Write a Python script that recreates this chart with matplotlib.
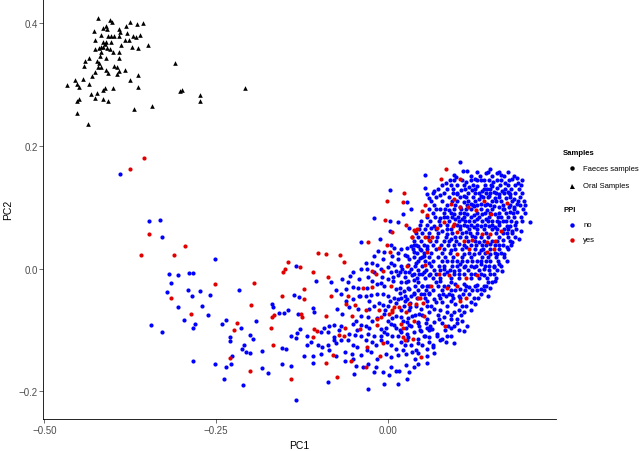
import matplotlib
matplotlib.use("Agg")
import matplotlib.pyplot as plt
from matplotlib.lines import Line2D

plt.rcParams['font.family'] = ['Liberation Sans', 'DejaVu Sans']

# ---------------- data (PC1, PC2) ----------------
oral_samples = [
    (-0.422, 0.408), (-0.404, 0.406), (-0.401, 0.402), (-0.428, 0.388), (-0.410, 0.395),
    (-0.415, 0.392), (-0.409, 0.390), (-0.391, 0.390), (-0.390, 0.386), (-0.381, 0.396),
    (-0.375, 0.402), (-0.365, 0.399), (-0.357, 0.401), (-0.380, 0.384), (-0.371, 0.379),
    (-0.367, 0.377), (-0.361, 0.381), (-0.417, 0.381), (-0.407, 0.379), (-0.403, 0.379),
    (-0.398, 0.380), (-0.391, 0.379), (-0.383, 0.373), (-0.377, 0.372), (-0.427, 0.372),
    (-0.415, 0.370), (-0.410, 0.369), (-0.412, 0.366), (-0.403, 0.370), (-0.418, 0.362),
    (-0.426, 0.358), (-0.420, 0.359), (-0.414, 0.362), (-0.409, 0.359), (-0.404, 0.358),
    (-0.388, 0.364), (-0.372, 0.361), (-0.363, 0.359), (-0.349, 0.364), (-0.418, 0.354),
    (-0.400, 0.354), (-0.392, 0.354), (-0.419, 0.346), (-0.411, 0.343), (-0.391, 0.344),
    (-0.435, 0.343), (-0.441, 0.339), (-0.423, 0.339), (-0.420, 0.336), (-0.442, 0.331),
    (-0.422, 0.328), (-0.418, 0.329), (-0.410, 0.324), (-0.399, 0.330), (-0.394, 0.328),
    (-0.391, 0.322), (-0.383, 0.324), (-0.426, 0.321), (-0.407, 0.319), (-0.395, 0.317),
    (-0.430, 0.314), (-0.364, 0.315), (-0.310, 0.335), (-0.455, 0.308), (-0.444, 0.310),
    (-0.452, 0.301), (-0.449, 0.296), (-0.467, 0.299), (-0.376, 0.308), (-0.435, 0.301),
    (-0.412, 0.294), (-0.400, 0.295), (-0.364, 0.296), (-0.414, 0.292), (-0.432, 0.285),
    (-0.423, 0.286), (-0.427, 0.278), (-0.415, 0.276), (-0.407, 0.273), (-0.453, 0.274),
    (-0.449, 0.276), (-0.303, 0.290), (-0.299, 0.291), (-0.273, 0.283), (-0.273, 0.273),
    (-0.207, 0.295), (-0.343, 0.265), (-0.369, 0.260), (-0.452, 0.253), (-0.436, 0.236),
]

faeces_ppi_no = [
    # left sparse arm
    (-0.390, 0.154), (-0.347, 0.077), (-0.332, 0.079), (-0.328, 0.052), (-0.252, 0.015),
    (-0.134, 0.004), (-0.319, -0.009), (-0.306, -0.010), (-0.290, -0.007), (-0.283, -0.007),
    (-0.315, -0.024), (-0.291, -0.034), (-0.217, -0.034), (-0.322, -0.038), (-0.285, -0.044),
    (-0.273, -0.036), (-0.258, -0.043), (-0.137, -0.043), (-0.129, -0.046),
    (-0.306, -0.063), (-0.271, -0.060), (-0.261, -0.076), (-0.169, -0.057), (-0.167, -0.063),
    (-0.158, -0.072), (-0.151, -0.072), (-0.145, -0.068), (-0.131, -0.074), (-0.345, -0.091),
    (-0.328, -0.104), (-0.296, -0.084), (-0.281, -0.090), (-0.284, -0.097), (-0.241, -0.090),
    (-0.235, -0.083), (-0.214, -0.096), (-0.191, -0.086), (-0.230, -0.112), (-0.230, -0.118),
    (-0.200, -0.108), (-0.196, -0.114), (-0.209, -0.124), (-0.212, -0.131), (-0.206, -0.136),
    (-0.200, -0.137), (-0.183, -0.134), (-0.154, -0.130), (-0.148, -0.131), (-0.141, -0.109),
    (-0.133, -0.113), (-0.132, -0.105), (-0.128, -0.099), (-0.283, -0.150), (-0.252, -0.156),
    (-0.226, -0.142), (-0.228, -0.155), (-0.235, -0.160), (-0.183, -0.162), (-0.174, -0.170),
    (-0.154, -0.155), (-0.140, -0.158), (-0.238, -0.179), (-0.210, -0.190), (-0.133, -0.214),
    # upper middle
    (0.004, 0.128), (0.029, 0.109), (0.034, 0.097), (0.022, 0.089), (-0.020, 0.082),
    (0.003, 0.077), (0.015, 0.076), (0.031, 0.067), (0.004, 0.062), (-0.011, 0.049),
    (-0.039, 0.044),
    # middle band
    (0.005, 0.039), (-0.014, 0.029), (-0.005, 0.027), (0.015, 0.026), (0.025, 0.022),
    (0.034, 0.037), (0.038, 0.039), (0.045, 0.037), (0.049, 0.031), (0.057, 0.037),
    (0.019, 0.032), (-0.032, 0.009), (-0.022, 0.009), (-0.051, -0.005), (-0.054, -0.012),
    (-0.010, -0.001), (0.000, 0.002), (0.005, 0.010), (0.012, -0.003), (0.019, 0.005),
    (0.025, -0.006), (0.034, -0.001), (0.041, 0.010), (0.048, 0.017), (0.061, 0.009),
    (0.053, -0.006), (0.046, -0.009), (0.061, -0.011), (0.000, -0.017), (0.015, -0.011),
    (0.036, -0.011), (-0.039, -0.001), (-0.042, -0.017), (-0.066, -0.017), (-0.058, -0.022),
    (-0.104, -0.020), (-0.083, -0.021), (0.019, -0.021), (0.039, -0.018), (-0.061, -0.033),
    (-0.051, -0.030), (-0.043, -0.032), (-0.015, -0.025), (-0.010, -0.024), (-0.005, -0.028),
    (0.012, -0.033), (0.018, -0.039), (0.024, -0.036), (0.032, -0.033), (0.039, -0.039),
    (0.053, -0.041), (0.061, -0.039), (-0.075, -0.034), (-0.068, -0.041), (-0.051, -0.049),
    (-0.041, -0.044), (-0.032, -0.044), (-0.024, -0.043), (-0.015, -0.041), (-0.007, -0.041),
    (0.000, -0.044), (0.010, -0.048), (0.019, -0.047), (0.029, -0.049), (0.051, -0.028),
    (0.058, -0.028), (-0.073, -0.066), (-0.056, -0.063), (-0.043, -0.066), (-0.027, -0.065),
    (-0.019, -0.060), (-0.007, -0.059), (0.000, -0.060), (0.024, -0.060), (0.033, -0.063),
    (0.049, -0.066), (0.061, -0.071), (-0.066, -0.074), (-0.039, -0.077), (-0.028, -0.079),
    (-0.005, -0.074), (0.012, -0.077), (0.019, -0.079), (0.046, -0.074), (-0.108, -0.064),
    (-0.107, -0.070), (-0.092, -0.097), (-0.085, -0.093), (-0.078, -0.092), (-0.068, -0.093),
    (-0.051, -0.090), (-0.032, -0.093), (-0.027, -0.096), (-0.010, -0.098), (-0.002, -0.096),
    (0.005, -0.090), (0.027, -0.096), (0.034, -0.093), (0.044, -0.087), (0.058, -0.096),
    (0.062, -0.098), (0.049, -0.101), (0.039, -0.104), (0.029, -0.106), (0.015, -0.109),
    (0.007, -0.109), (-0.001, -0.106), (-0.010, -0.109), (-0.019, -0.109), (-0.029, -0.106),
    (-0.039, -0.109), (-0.048, -0.108), (-0.056, -0.106), (-0.078, -0.112), (-0.087, -0.104),
    (-0.097, -0.104), (-0.117, -0.109), (-0.112, -0.120), (-0.118, -0.124), (-0.102, -0.125),
    (-0.095, -0.127), (-0.087, -0.125), (-0.078, -0.117), (-0.075, -0.121), (-0.068, -0.116),
    (-0.058, -0.117), (-0.051, -0.125), (-0.044, -0.128), (-0.023, -0.120), (-0.017, -0.125),
    (-0.001, -0.119), (0.005, -0.125), (0.012, -0.131), (0.019, -0.120), (0.034, -0.124),
    (0.044, -0.121), (0.051, -0.125), (0.058, -0.131), (-0.097, -0.139), (-0.075, -0.143),
    (-0.062, -0.136), (-0.052, -0.139), (-0.039, -0.141), (-0.024, -0.136), (-0.002, -0.139),
    (0.005, -0.144), (0.015, -0.141), (0.027, -0.139), (0.036, -0.136), (0.058, -0.142),
    (-0.121, -0.143), (-0.108, -0.143), (-0.108, -0.154), (-0.062, -0.151), (-0.046, -0.158),
    (-0.036, -0.161), (-0.028, -0.155), (-0.017, -0.161), (-0.007, -0.169), (0.002, -0.174),
    (0.012, -0.166), (0.017, -0.166), (0.027, -0.157), (0.032, -0.169), (0.044, -0.155),
    (0.058, -0.153), (-0.049, -0.172), (-0.020, -0.169), (0.029, -0.179), (-0.087, -0.184),
    (-0.005, -0.188), (0.016, -0.188), (-0.028, -0.196),
    (0.039, 0.027), (0.053, 0.021), (0.044, -0.022), (0.058, -0.052), (0.036, -0.077),
    (0.053, -0.109), (0.044, -0.115), (0.029, -0.087), (0.015, -0.049), (0.012, -0.096),
    (0.058, -0.082), (0.027, -0.022),
    # dense right cluster
    (0.106, 0.174), (0.054, 0.152), (0.097, 0.153), (0.100, 0.149), (0.110, 0.159),
    (0.116, 0.160), (0.150, 0.163), (0.143, 0.156), (0.159, 0.156), (0.166, 0.152),
    (0.171, 0.140), (0.182, 0.146), (0.189, 0.148), (0.190, 0.140), (0.128, 0.146),
    (0.136, 0.144), (0.140, 0.145), (0.148, 0.144), (0.154, 0.142), (0.091, 0.144),
    (0.092, 0.137), (0.085, 0.140), (0.115, 0.141), (0.055, 0.131), (0.068, 0.127),
    (0.077, 0.120), (0.058, 0.122), (0.060, 0.116), (0.096, 0.123), (0.107, 0.129),
    (0.119, 0.133), (0.123, 0.128), (0.131, 0.134), (0.138, 0.127), (0.145, 0.130),
    (0.153, 0.134), (0.160, 0.132), (0.167, 0.127), (0.175, 0.125), (0.179, 0.122),
    (0.076, 0.097), (0.084, 0.098), (0.089, 0.096), (0.102, 0.111), (0.111, 0.108),
    (0.121, 0.106), (0.133, 0.114), (0.148, 0.119), (0.157, 0.116), (0.165, 0.111),
    (0.172, 0.116), (0.184, 0.114), (0.189, 0.106), (0.199, 0.111), (0.201, 0.104),
    (0.184, 0.100), (0.179, 0.092), (0.189, 0.092), (0.194, 0.084), (0.208, 0.076),
    (0.187, 0.076), (0.194, 0.062), (0.191, 0.049), (0.179, 0.070), (0.172, 0.078),
    (0.165, 0.084), (0.157, 0.089), (0.145, 0.095), (0.138, 0.089), (0.126, 0.087),
    (0.116, 0.089), (0.106, 0.090), (0.097, 0.089), (0.087, 0.085), (0.077, 0.083),
    (0.068, 0.070), (0.063, 0.066), (0.080, 0.062), (0.087, 0.057), (0.114, 0.059),
    (0.123, 0.054), (0.174, 0.058), (0.169, 0.046), (0.133, 0.043), (0.114, 0.035),
    (0.106, 0.051), (0.092, 0.049), (0.082, 0.045), (0.136, 0.030), (0.160, 0.024),
    (0.174, 0.013), (0.150, 0.013), (0.131, 0.013), (0.116, 0.013), (0.102, 0.013),
    (0.087, 0.013), (0.075, 0.005), (0.087, -0.006), (0.097, -0.003), (0.111, 0.002),
    (0.126, 0.002), (0.140, 0.000), (0.155, 0.002), (0.167, -0.003),
    (0.102, 0.122), (0.111, 0.119), (0.128, 0.123), (0.136, 0.119), (0.143, 0.123),
    (0.155, 0.125), (0.162, 0.121), (0.170, 0.123), (0.106, 0.100), (0.114, 0.097),
    (0.126, 0.103), (0.136, 0.106), (0.145, 0.106), (0.155, 0.103), (0.162, 0.100),
    (0.170, 0.097), (0.177, 0.100), (0.099, 0.081), (0.109, 0.081), (0.119, 0.078),
    (0.131, 0.081), (0.143, 0.081), (0.153, 0.078), (0.162, 0.076), (0.174, 0.070),
    (0.106, 0.070), (0.116, 0.070), (0.126, 0.068), (0.136, 0.070), (0.148, 0.070),
    (0.157, 0.068), (0.170, 0.065), (0.182, 0.062), (0.104, 0.040), (0.121, 0.039),
    (0.138, 0.038), (0.150, 0.040), (0.162, 0.038), (0.174, 0.035), (0.182, 0.043),
    (0.092, 0.030), (0.111, 0.024), (0.126, 0.024), (0.150, 0.024), (0.170, 0.024),
    (0.094, 0.005), (0.106, 0.008), (0.121, 0.005), (0.136, 0.008), (0.148, 0.005),
    (0.162, 0.008), (0.082, -0.000), (0.104, -0.008), (0.121, -0.008), (0.140, -0.011),
    (0.155, -0.008),
    # lower right of cluster
    (0.070, -0.022), (0.077, -0.020), (0.082, -0.028), (0.092, -0.022), (0.099, -0.025),
    (0.106, -0.033), (0.111, -0.025), (0.119, -0.030), (0.123, -0.034), (0.131, -0.027),
    (0.136, -0.033), (0.140, -0.028), (0.146, -0.022), (0.153, -0.021), (0.157, -0.020),
    (0.150, -0.032), (0.136, -0.041), (0.126, -0.047), (0.104, -0.044), (0.094, -0.043),
    (0.085, -0.045), (0.075, -0.043), (0.068, -0.049), (0.070, -0.055), (0.080, -0.055),
    (0.092, -0.052), (0.099, -0.058), (0.109, -0.060), (0.121, -0.055), (0.128, -0.058),
    (0.122, -0.068), (0.111, -0.071), (0.104, -0.068), (0.097, -0.071), (0.087, -0.071),
    (0.077, -0.068), (0.068, -0.066), (0.082, -0.079), (0.092, -0.082), (0.102, -0.082),
    (0.109, -0.085), (0.116, -0.093), (0.111, -0.102), (0.097, -0.093), (0.092, -0.096),
    (0.075, -0.082), (0.068, -0.087), (0.065, -0.098), (0.072, -0.106), (0.080, -0.115),
    (0.087, -0.109), (0.097, -0.121), (0.067, -0.128), (0.077, -0.117), (0.146, -0.045),
]

# extra PPI = no points in the crowded part of the cloud, read row by row (PC2 -> PC1 list)
faeces_ppi_no_rows = [
    (0.158, [0.131, 0.147, 0.163, 0.176]),
    (0.151, [0.121, 0.135, 0.152, 0.170, 0.185]),
    (0.144, [0.097, 0.108, 0.122, 0.131, 0.159, 0.166, 0.177, 0.196]),
    (0.137, [0.079, 0.101, 0.112, 0.124, 0.142, 0.151, 0.164, 0.175, 0.186, 0.195]),
    (0.130, [0.073, 0.086, 0.095, 0.113, 0.127, 0.141, 0.149, 0.171, 0.180, 0.191]),
    (0.124, [0.066, 0.083, 0.101, 0.117, 0.133, 0.150, 0.158, 0.177, 0.186, 0.196]),
    (0.117, [0.071, 0.089, 0.105, 0.115, 0.124, 0.139, 0.146, 0.163, 0.178, 0.193]),
    (0.111, [0.063, 0.080, 0.094, 0.117, 0.128, 0.152, 0.158, 0.182, 0.190]),
    (0.104, [0.068, 0.086, 0.099, 0.116, 0.125, 0.131, 0.142, 0.149, 0.168, 0.178, 0.193]),
    (0.097, [0.061, 0.070, 0.097, 0.107, 0.121, 0.136, 0.152, 0.169, 0.185, 0.198]),
    (0.091, [0.066, 0.083, 0.093, 0.111, 0.131, 0.142, 0.150, 0.162, 0.172, 0.183, 0.200]),
    (0.084, [0.058, 0.069, 0.082, 0.094, 0.103, 0.112, 0.121, 0.133, 0.148, 0.161, 0.176, 0.185]),
    (0.077, [0.049, 0.062, 0.075, 0.089, 0.104, 0.113, 0.126, 0.138, 0.146, 0.159, 0.168, 0.180, 0.196]),
    (0.071, [0.047, 0.057, 0.076, 0.086, 0.101, 0.111, 0.121, 0.131, 0.142, 0.153, 0.163, 0.186]),
    (0.064, [0.046, 0.055, 0.070, 0.087, 0.093, 0.106, 0.119, 0.131, 0.141, 0.152, 0.160, 0.176, 0.188]),
    (0.058, [0.042, 0.050, 0.061, 0.074, 0.094, 0.108, 0.120, 0.130, 0.144, 0.158, 0.168, 0.181]),
    (0.051, [0.045, 0.059, 0.072, 0.085, 0.099, 0.114, 0.128, 0.137, 0.147, 0.162, 0.175, 0.186]),
    (0.045, [0.038, 0.049, 0.062, 0.070, 0.090, 0.100, 0.118, 0.128, 0.140, 0.152, 0.160, 0.178]),
    (0.038, [0.042, 0.053, 0.066, 0.078, 0.088, 0.097, 0.112, 0.129, 0.144, 0.156, 0.168, 0.180]),
    (0.032, [0.037, 0.047, 0.058, 0.070, 0.083, 0.099, 0.108, 0.127, 0.139, 0.150, 0.163, 0.175]),
    (0.025, [0.043, 0.053, 0.064, 0.080, 0.091, 0.119, 0.133, 0.142, 0.156, 0.166]),
    (0.019, [0.039, 0.050, 0.060, 0.073, 0.084, 0.096, 0.108, 0.121, 0.138, 0.146, 0.158, 0.170]),
    (0.012, [0.045, 0.055, 0.066, 0.079, 0.094, 0.109, 0.123, 0.137, 0.143, 0.161]),
    (0.005, [0.040, 0.050, 0.063, 0.083, 0.101, 0.113, 0.129, 0.142, 0.155, 0.166]),
    (-0.002, [0.044, 0.056, 0.068, 0.076, 0.091, 0.104, 0.117, 0.133, 0.148, 0.160]),
    (-0.008, [0.038, 0.050, 0.062, 0.071, 0.082, 0.097, 0.111, 0.127, 0.136, 0.149]),
    (-0.015, [0.043, 0.055, 0.066, 0.077, 0.093, 0.104, 0.121, 0.134, 0.145, 0.158]),
    (-0.028, [0.040, 0.050, 0.061, 0.074, 0.088, 0.115, 0.127, 0.143]),
    (-0.035, [0.044, 0.056, 0.067, 0.079, 0.093, 0.099, 0.113, 0.131, 0.141]),
    (-0.041, [0.039, 0.049, 0.061, 0.081, 0.090, 0.110, 0.119]),
    (-0.048, [0.043, 0.054, 0.076, 0.095, 0.105, 0.132]),
    (-0.061, [0.042, 0.057, 0.063, 0.086, 0.115]),
    (-0.075, [0.040, 0.051, 0.073, 0.092, 0.107]),
    (-0.089, [0.044, 0.056, 0.079, 0.101]),
    (-0.100, [0.047, 0.060, 0.084, 0.104]),
    (0.020, [-0.020, 0.006, 0.029]),
    (0.000, [-0.030, 0.021]),
    (-0.013, [-0.028, -0.008, 0.008, 0.026]),
    (-0.053, [-0.060, -0.027, 0.004, 0.026]),
    (-0.085, [-0.046, -0.022, 0.000, 0.022]),
    (-0.100, [-0.070, -0.045, 0.018]),
    (-0.117, [-0.032, -0.009, 0.028]),
    (-0.133, [-0.085, -0.030, 0.022, 0.042]),
    (-0.148, [-0.050, -0.015, 0.040]),
    # left lobe of the main cloud
    (0.033, [0.010, 0.028]),
    (0.015, [-0.006, 0.015, 0.031]),
    (0.006, [-0.015, 0.009, 0.030]),
    (-0.006, [-0.020, 0.005, 0.018, 0.031]),
    (-0.020, [-0.022, 0.008, 0.030]),
    (-0.031, [-0.030, 0.018, 0.030]),
    (-0.045, [-0.040, 0.025, 0.034]),
    (-0.056, [-0.012, 0.012, 0.033]),
    (-0.067, [-0.003, 0.020, 0.031]),
    (-0.080, [-0.015, 0.006, 0.030]),
    (-0.092, [-0.038, 0.010, 0.031]),
    (-0.104, [-0.005, 0.020]),
    (-0.112, [0.030, 0.060]),
    (-0.125, [0.025, 0.066]),
    (-0.138, [0.045, 0.068]),
    (-0.160, [0.005, 0.038]),
    (-0.110, [0.055, 0.072, 0.093]),
    (-0.120, [0.060, 0.085]),
    (-0.093, [0.046, 0.062, 0.088]),
]

faeces_ppi_yes = [
    (-0.355, 0.180), (-0.375, 0.162), (-0.347, 0.057), (-0.295, 0.037), (-0.360, 0.022),
    (-0.311, 0.022), (-0.145, 0.011), (-0.150, -0.001), (-0.152, -0.005), (-0.128, 0.002),
    (-0.252, -0.025), (-0.194, -0.024), (-0.316, -0.048), (-0.154, -0.044),
    (-0.287, -0.074), (-0.199, -0.059), (-0.169, -0.078), (-0.165, -0.076), (-0.220, -0.089),
    (-0.224, -0.100), (-0.170, -0.096), (-0.167, -0.125), (-0.229, -0.145), (-0.200, -0.167),
    (-0.141, -0.179),
    (0.024, 0.123), (-0.001, 0.110), (0.023, 0.108), (-0.003, 0.080), (0.027, 0.071),
    (0.039, 0.063), (0.007, 0.060), (0.035, 0.052), (-0.029, 0.044),
    (-0.001, 0.039), (0.003, 0.028), (0.060, 0.047), (0.058, 0.027), (-0.101, 0.026),
    (-0.089, 0.024), (-0.069, 0.023), (-0.063, 0.011), (-0.108, -0.005), (-0.087, -0.014),
    (-0.022, -0.004), (-0.017, -0.008), (-0.007, -0.004), (0.028, 0.005), (0.054, 0.006),
    (-0.036, -0.031), (-0.022, -0.030), (0.005, -0.028), (0.044, -0.047), (0.048, -0.048),
    (-0.121, -0.033), (-0.121, -0.049), (-0.082, -0.044), (-0.058, -0.045), (-0.061, -0.058),
    (-0.048, -0.059), (-0.032, -0.068), (-0.012, -0.068), (0.007, -0.068), (0.010, -0.063),
    (0.017, -0.063), (0.032, -0.058), (0.041, -0.058), (0.053, -0.077), (-0.052, -0.077),
    (-0.016, -0.082), (-0.010, -0.078), (0.002, -0.074), (0.006, -0.071), (0.027, -0.071),
    (0.039, -0.085), (-0.090, -0.077), (-0.126, -0.074), (-0.125, -0.078), (-0.107, -0.098),
    (-0.103, -0.101), (-0.062, -0.097), (-0.040, -0.098), (-0.016, -0.091), (0.019, -0.090),
    (0.022, -0.097), (0.022, -0.112), (-0.063, -0.109), (-0.070, -0.108), (-0.109, -0.112),
    (-0.030, -0.128), (-0.007, -0.121), (0.025, -0.116), (-0.079, -0.140), (-0.011, -0.143),
    (0.049, -0.144), (-0.089, -0.154), (-0.053, -0.151), (-0.032, -0.161), (-0.073, -0.177),
    (0.052, -0.056), (0.037, -0.115),
    (0.085, 0.163), (0.078, 0.147), (0.105, 0.147), (0.097, 0.113), (0.093, 0.106),
    (0.105, 0.101), (0.117, 0.101), (0.129, 0.096), (0.140, 0.111), (0.174, 0.107),
    (0.151, 0.089), (0.055, 0.104), (0.058, 0.088), (0.051, 0.094), (0.082, 0.076),
    (0.097, 0.073), (0.096, 0.069), (0.072, 0.066), (0.043, 0.065), (0.040, 0.061),
    (0.036, 0.052), (0.055, 0.052), (0.065, 0.052), (0.102, 0.059), (0.138, 0.057),
    (0.150, 0.057), (0.157, 0.045), (0.165, 0.062), (0.145, 0.043), (0.123, 0.046),
    (0.111, 0.045), (0.075, 0.034), (0.102, 0.024), (0.119, 0.032), (0.145, 0.027),
    (0.155, 0.032), (0.089, -0.010), (0.114, -0.015), (0.131, -0.011), (0.075, -0.008),
    (0.063, -0.029), (0.086, -0.032), (0.102, -0.029), (0.114, -0.048), (0.105, -0.053),
    (0.084, -0.093),
]

x_ticks = [-0.50, -0.25, 0.00]
x_tick_labels = ['\u22120.50', '\u22120.25', '0.00']
y_ticks = [-0.2, 0.0, 0.2, 0.4]
y_tick_labels = ['\u22120.2', '0.0', '0.2', '0.4']

legend_samples = ['Faeces samples', 'Oral Samples']
legend_ppi = ['no', 'yes']

BLUE = '#0000FF'
RED = '#E00000'
BLACK = '#000000'

# ---------------- figure ----------------
fig = plt.figure(figsize=(6.4, 4.52), dpi=100)
W, H = 640.0, 452.0
ax = fig.add_axes([43.3 / W, 32 / H, (556 - 43.3) / W, 420 / H])

def unzip(pts):
    return [p[0] for p in pts], [p[1] for p in pts]

ox, oy = unzip(oral_samples)
nx, ny = unzip(faeces_ppi_no)
for pc2, pc1_list in faeces_ppi_no_rows:
    for pc1 in pc1_list:
        nx.append(pc1)
        ny.append(pc2)
yx, yy = unzip(faeces_ppi_yes)

ax.scatter(nx, ny, s=9, c=BLUE, marker='o', linewidths=0)
ax.scatter(yx, yy, s=9, c=RED, marker='o', linewidths=0)
ax.scatter(ox, oy, s=11, c=BLACK, marker='^', linewidths=0)

ax.set_xlim(-0.5017, 0.2456)
ax.set_ylim(-0.245, 0.4396)

ax.set_xticks(x_ticks)
ax.set_xticklabels(x_tick_labels)
ax.set_yticks(y_ticks)
ax.set_yticklabels(y_tick_labels)
ax.tick_params(axis='both', direction='out', length=2.6, width=0.5,
               color='#333333', labelsize=7, labelcolor='#4D4D4D', pad=1.5)

for side in ['top', 'right']:
    ax.spines[side].set_visible(False)
for side in ['left', 'bottom']:
    ax.spines[side].set_linewidth(0.6)
    ax.spines[side].set_color('#000000')

ax.set_xlabel('PC1', fontsize=7.5, labelpad=4)
ax.set_ylabel('PC2', fontsize=7.5, labelpad=4)

# ---------------- legends ----------------
def fx(px):
    return px / W

def fy(py):
    return 1 - py / H

fig.text(fx(563), fy(153.3), 'Samples', fontsize=5.6, fontweight='bold',
         ha='left', va='center')
sample_markers = ['o', '^']
sample_sizes = [3.2, 3.6]
sample_rows = [169.3, 186.7]
for lab, mk, ms, py in zip(legend_samples, sample_markers, sample_sizes, sample_rows):
    fig.add_artist(Line2D([fx(571.7)], [fy(py)], marker=mk, markersize=ms,
                          color=BLACK, linestyle='none', markeredgewidth=0,
                          transform=fig.transFigure))
    fig.text(fx(583.3), fy(py), lab, fontsize=5.5, ha='left', va='center')

fig.text(fx(563), fy(210.7), 'PPI', fontsize=5.6, fontweight='bold',
         ha='left', va='center')
ppi_colors = [BLUE, RED]
ppi_rows = [226.0, 240.7]
for lab, col, py in zip(legend_ppi, ppi_colors, ppi_rows):
    fig.add_artist(Line2D([fx(571.7)], [fy(py)], marker='o', markersize=3.2,
                          color=col, linestyle='none', markeredgewidth=0,
                          transform=fig.transFigure))
    fig.text(fx(583.3), fy(py), lab, fontsize=5.5, ha='left', va='center')

fig.savefig('out.png', dpi=100)
